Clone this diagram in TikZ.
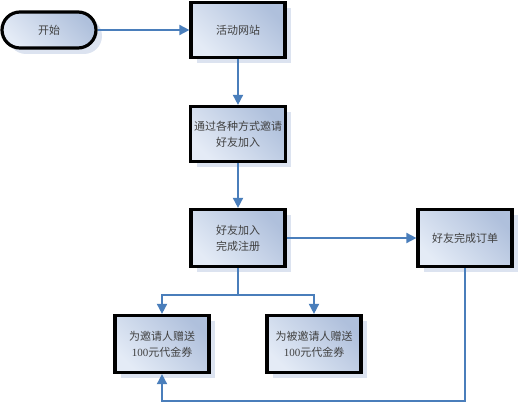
\documentclass[tikz,border=0pt]{standalone}
\usepackage{fontspec}
\setmainfont{Liberation Serif}
\newfontfamily\cjk{Noto Sans CJK SC}
\usetikzlibrary{arrows.meta,shadows}
\definecolor{linec}{HTML}{4A7EBB}
\definecolor{fillA}{HTML}{E4EBF6}
\definecolor{fillB}{HTML}{AFC0DC}
\definecolor{shadowc}{HTML}{DCE3F0}
\tikzset{
  box/.style={draw=black, line width=3.2pt, minimum width=94pt, minimum height=55pt,
    left color=fillA, right color=fillB, shading angle=135, align=center,
    font=\cjk\fontsize{11}{16}\selectfont, text=black!75,
    drop shadow={shadow xshift=6pt, shadow yshift=-6pt, fill=shadowc, opacity=1}},
  term/.style={box, minimum width=94pt, minimum height=36pt, rounded corners=18pt},
  conn/.style={draw=linec, line width=1.8pt, -{Triangle[length=10pt,width=10pt]}},
  plain/.style={draw=linec, line width=1.8pt}
}
\begin{document}
\begin{tikzpicture}[x=1pt,y=-1pt]
\useasboundingbox (0,0) rectangle (520,403);
\node[term] (start) at (49,30) {开始};
\node[box] (site) at (238,30) {活动网站};
\node[box, minimum height=55pt] (invite) at (238,134) {通过各种方式邀请\\好友加入};
\node[box, minimum height=57pt] (reg) at (238,238) {好友加入\\完成注册};
\node[box, minimum height=57pt] (order) at (465,238) {好友完成订单};
\node[box, minimum height=57pt] (gl) at (162,344) {为邀请人赠送\\{\fontspec{Liberation Serif}100}元代金券};
\node[box, minimum height=57pt] (gr) at (314,344) {为被邀请人赠送\\{\fontspec{Liberation Serif}100}元代金券};
\coordinate (br) at (238,295);
\coordinate (bb) at (465,401);
\draw[conn] (start) -- (site);
\draw[conn] (site) -- (invite);
\draw[conn] (invite) -- (reg);
\draw[conn] (reg) -- (order);
\draw[plain] (reg.south) -- (br);
\draw[conn] (br) -| (gl.north);
\draw[conn] (br) -| (gr.north);
\draw[conn] (order.south) -- (bb) -| (gl.south);
\end{tikzpicture}
\end{document}
